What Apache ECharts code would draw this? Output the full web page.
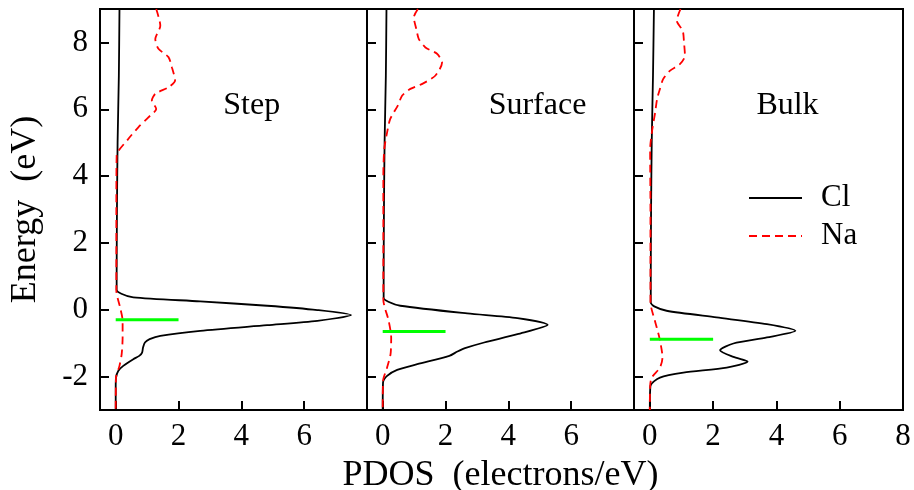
<!DOCTYPE html>
<html><head><meta charset="utf-8">
<script src="https://cdn.jsdelivr.net/npm/echarts@6/dist/echarts.min.js"></script>
<style>html,body{margin:0;padding:0;background:#fff}#c{width:914px;height:490px}</style>
</head><body><div id="c"></div><script>
// ---- data (x = PDOS electrons/eV, y = Energy eV) ----
var panelNames = ['Step', 'Surface', 'Bulk'];
var seriesNames = ['Cl', 'Na'];
var xTickValues = [0, 2, 4, 6];
var xTickValuesLast = [0, 2, 4, 6, 8];
var yTickValues = [-2, 0, 2, 4, 6, 8];

var stepClE = [9, 7, 5, 3, 1, 0.6, 0.48, 0.37, 0.25, 0.12, -0.01, -0.16, -0.33, -0.46, -0.63, -0.78, -0.88, -0.98, -1.13, -1.28, -1.38, -1.48, -1.68, -1.83, -2.03, -2.3, -3];
var stepClV = [0.12, 0.10, 0.06, 0.04, 0.03, 0.03, 0.18, 0.56, 2.69, 4.82, 6.42, 7.49, 6.42, 4.82, 2.69, 1.42, 1.08, 0.93, 0.87, 0.84, 0.75, 0.56, 0.24, 0.08, 0.01, 0, 0];
var stepNaE = [9, 8.5, 8.1, 7.81, 7.56, 7.25, 6.86, 6.66, 6.46, 6.26, 6.01, 5.76, 5.46, 5.11, 4.61, 3, 1, 0.57, 0.07, -0.33, -0.83, -1.33, -1.68, -2.03, -3];
var stepNaV = [1.29, 1.42, 1.26, 1.36, 1.68, 1.79, 1.89, 1.68, 1.26, 1.15, 1.29, 1.04, 0.72, 0.40, 0.03, 0.02, 0.02, 0.02, 0.14, 0.22, 0.22, 0.19, 0.12, 0.01, 0];

var surfClE = [9, 7, 5, 3, 1, 0.35, 0.24, 0.12, -0.11, -0.25, -0.45, -0.73, -0.98, -1.15, -1.25, -1.38, -1.63, -1.80, -1.98, -2.18, -3];
var surfClV = [0.12, 0.10, 0.06, 0.04, 0.03, 0.03, 0.18, 0.56, 2.69, 4.29, 5.25, 4.29, 3.23, 2.62, 2.38, 2.12, 1.10, 0.46, 0.14, 0.01, 0];
var surfNaE = [9, 8.75, 8.4, 8.1, 7.85, 7.66, 7.4, 7.01, 6.76, 6.61, 6.41, 6.11, 5.71, 5.31, 4.81, 4, 1, 0.3, -0.33, -0.83, -1.33, -1.73, -2.13, -3];
var surfNaV = [1.12, 0.99, 1.07, 1.15, 1.36, 1.73, 1.89, 1.68, 1.26, 0.88, 0.62, 0.48, 0.24, 0.14, 0.05, 0.02, 0.02, 0.02, 0.19, 0.27, 0.25, 0.14, 0.01, 0];

var bulkClE = [9, 7, 5, 3, 1, 0.22, 0.1, -0.03, -0.23, -0.43, -0.63, -0.83, -1.01, -1.21, -1.41, -1.55, -1.73, -1.88, -2.03, -2.28, -3];
var bulkClV = [0.13, 0.10, 0.06, 0.04, 0.03, 0.03, 0.14, 0.53, 2.11, 3.70, 4.60, 3.70, 2.64, 2.22, 2.64, 3.09, 2.43, 1.06, 0.32, 0.02, 0];
var bulkNaE = [9, 8.65, 8.35, 8.0, 7.6, 7.35, 7.15, 6.9, 6.61, 6.31, 5.91, 5.41, 4.81, 3, 1, 0.22, -0.33, -0.83, -1.43, -1.73, -2.03, -2.28, -3];
var bulkNaV = [0.97, 0.85, 1.04, 1.08, 1.11, 0.95, 0.63, 0.42, 0.32, 0.23, 0.17, 0.08, 0.01, 0.02, 0.02, 0.02, 0.16, 0.30, 0.40, 0.32, 0.06, 0.01, 0];

var fermiE = [-0.3, -0.65, -0.88];
var fermiX = [0, 2];

// ---- build ----
var SERIF = '"Liberation Serif", "Times New Roman", serif';
function pairs(E, V) { return E.map(function (e, i) { return [V[i], e]; }); }
var clSets = [pairs(stepClE, stepClV), pairs(surfClE, surfClV), pairs(bulkClE, bulkClV)];
var naSets = [pairs(stepNaE, stepNaV), pairs(surfNaE, surfNaV), pairs(bulkNaE, bulkNaV)];

var gridLefts = [100, 367, 634];
var gridWidths = [267, 267, 269];
var grids = [], xAxes = [], yAxes = [], series = [], graphics = [];
var labelX = [251.7, 537.5, 787.5];
var richNum = { n: { fontSize: 31, fontFamily: SERIF, color: '#000' } };

for (var i = 0; i < 3; i++) {
  grids.push({ left: gridLefts[i], top: 9, width: gridWidths[i], height: 401, show: true,
    borderColor: '#000', borderWidth: 2, backgroundColor: 'transparent', containLabel: false, outerBoundsMode: 'none' });
  var xv = i === 2 ? xTickValuesLast : xTickValues;
  xAxes.push({ type: 'value', gridIndex: i, min: -0.5, max: 8, position: 'bottom',
    axisLine: { show: false, onZero: false }, splitLine: { show: false },
    axisTick: { show: true, inside: true, length: 9, lineStyle: { color: '#000', width: 2 }, customValues: xv },
    axisLabel: { show: true, customValues: xv, fontSize: 31, fontFamily: SERIF, color: '#000', margin: 11,
      formatter: '{n|{value}}', rich: richNum },
    name: i === 1 ? 'PDOS  (electrons/eV)' : '', nameLocation: 'middle', nameGap: 48,
    nameTextStyle: { fontSize: 36, fontFamily: SERIF, color: '#000' } });
  yAxes.push({ type: 'value', gridIndex: i, min: -3, max: 9, position: 'left',
    axisLine: { show: false, onZero: false }, splitLine: { show: false },
    axisTick: { show: true, inside: true, length: 9, lineStyle: { color: '#000', width: 2 }, customValues: yTickValues },
    axisLabel: { show: i === 0, customValues: yTickValues, fontSize: 31, fontFamily: SERIF, color: '#000', margin: 12,
      formatter: '{n|{value}}', rich: richNum },
    name: i === 0 ? 'Energy  (eV)' : '', nameLocation: 'middle', nameGap: 56,
    nameTextStyle: { fontSize: 36, fontFamily: SERIF, color: '#000' } });
  series.push({ name: seriesNames[0], type: 'line', xAxisIndex: i, yAxisIndex: i, data: clSets[i],
    symbol: 'none', smooth: 0.25, lineStyle: { color: '#000', width: 1.8 }, itemStyle: { color: '#000' }, z: 2 });
  series.push({ name: seriesNames[1], type: 'line', xAxisIndex: i, yAxisIndex: i, data: naSets[i],
    symbol: 'none', smooth: 0.25, lineStyle: { color: '#ff0000', width: 1.8, type: [8, 5] }, itemStyle: { color: '#ff0000' }, z: 3 });
  series.push({ name: 'Ef', type: 'line', xAxisIndex: i, yAxisIndex: i,
    data: fermiX.map(function (x) { return [x, fermiE[i]]; }),
    symbol: 'none', lineStyle: { color: '#00ff00', width: 3 }, z: 4 });
  graphics.push({ type: 'text', style: { text: panelNames[i], x: labelX[i], y: 106, fill: '#000',
    fontSize: 32, fontFamily: SERIF, align: 'center', verticalAlign: 'middle' } });
}

var chart = echarts.init(document.getElementById('c'), null, { renderer: 'canvas' });
chart.setOption({
  animation: false,
  backgroundColor: '#fff',
  textStyle: { fontFamily: SERIF, color: '#000' },
  grid: grids, xAxis: xAxes, yAxis: yAxes, series: series, graphic: graphics,
  legend: { data: seriesNames, orient: 'vertical', left: 743, top: 174, itemWidth: 53, itemHeight: 20, itemGap: 0,
    selectedMode: false,
    itemStyle: { color: 'rgba(0,0,0,0)', borderWidth: 0, opacity: 0 },
    textStyle: { fontSize: 31, fontFamily: SERIF, color: '#000', lineHeight: 38, padding: [0, 0, 0, 14] } }
});
</script></body></html>
